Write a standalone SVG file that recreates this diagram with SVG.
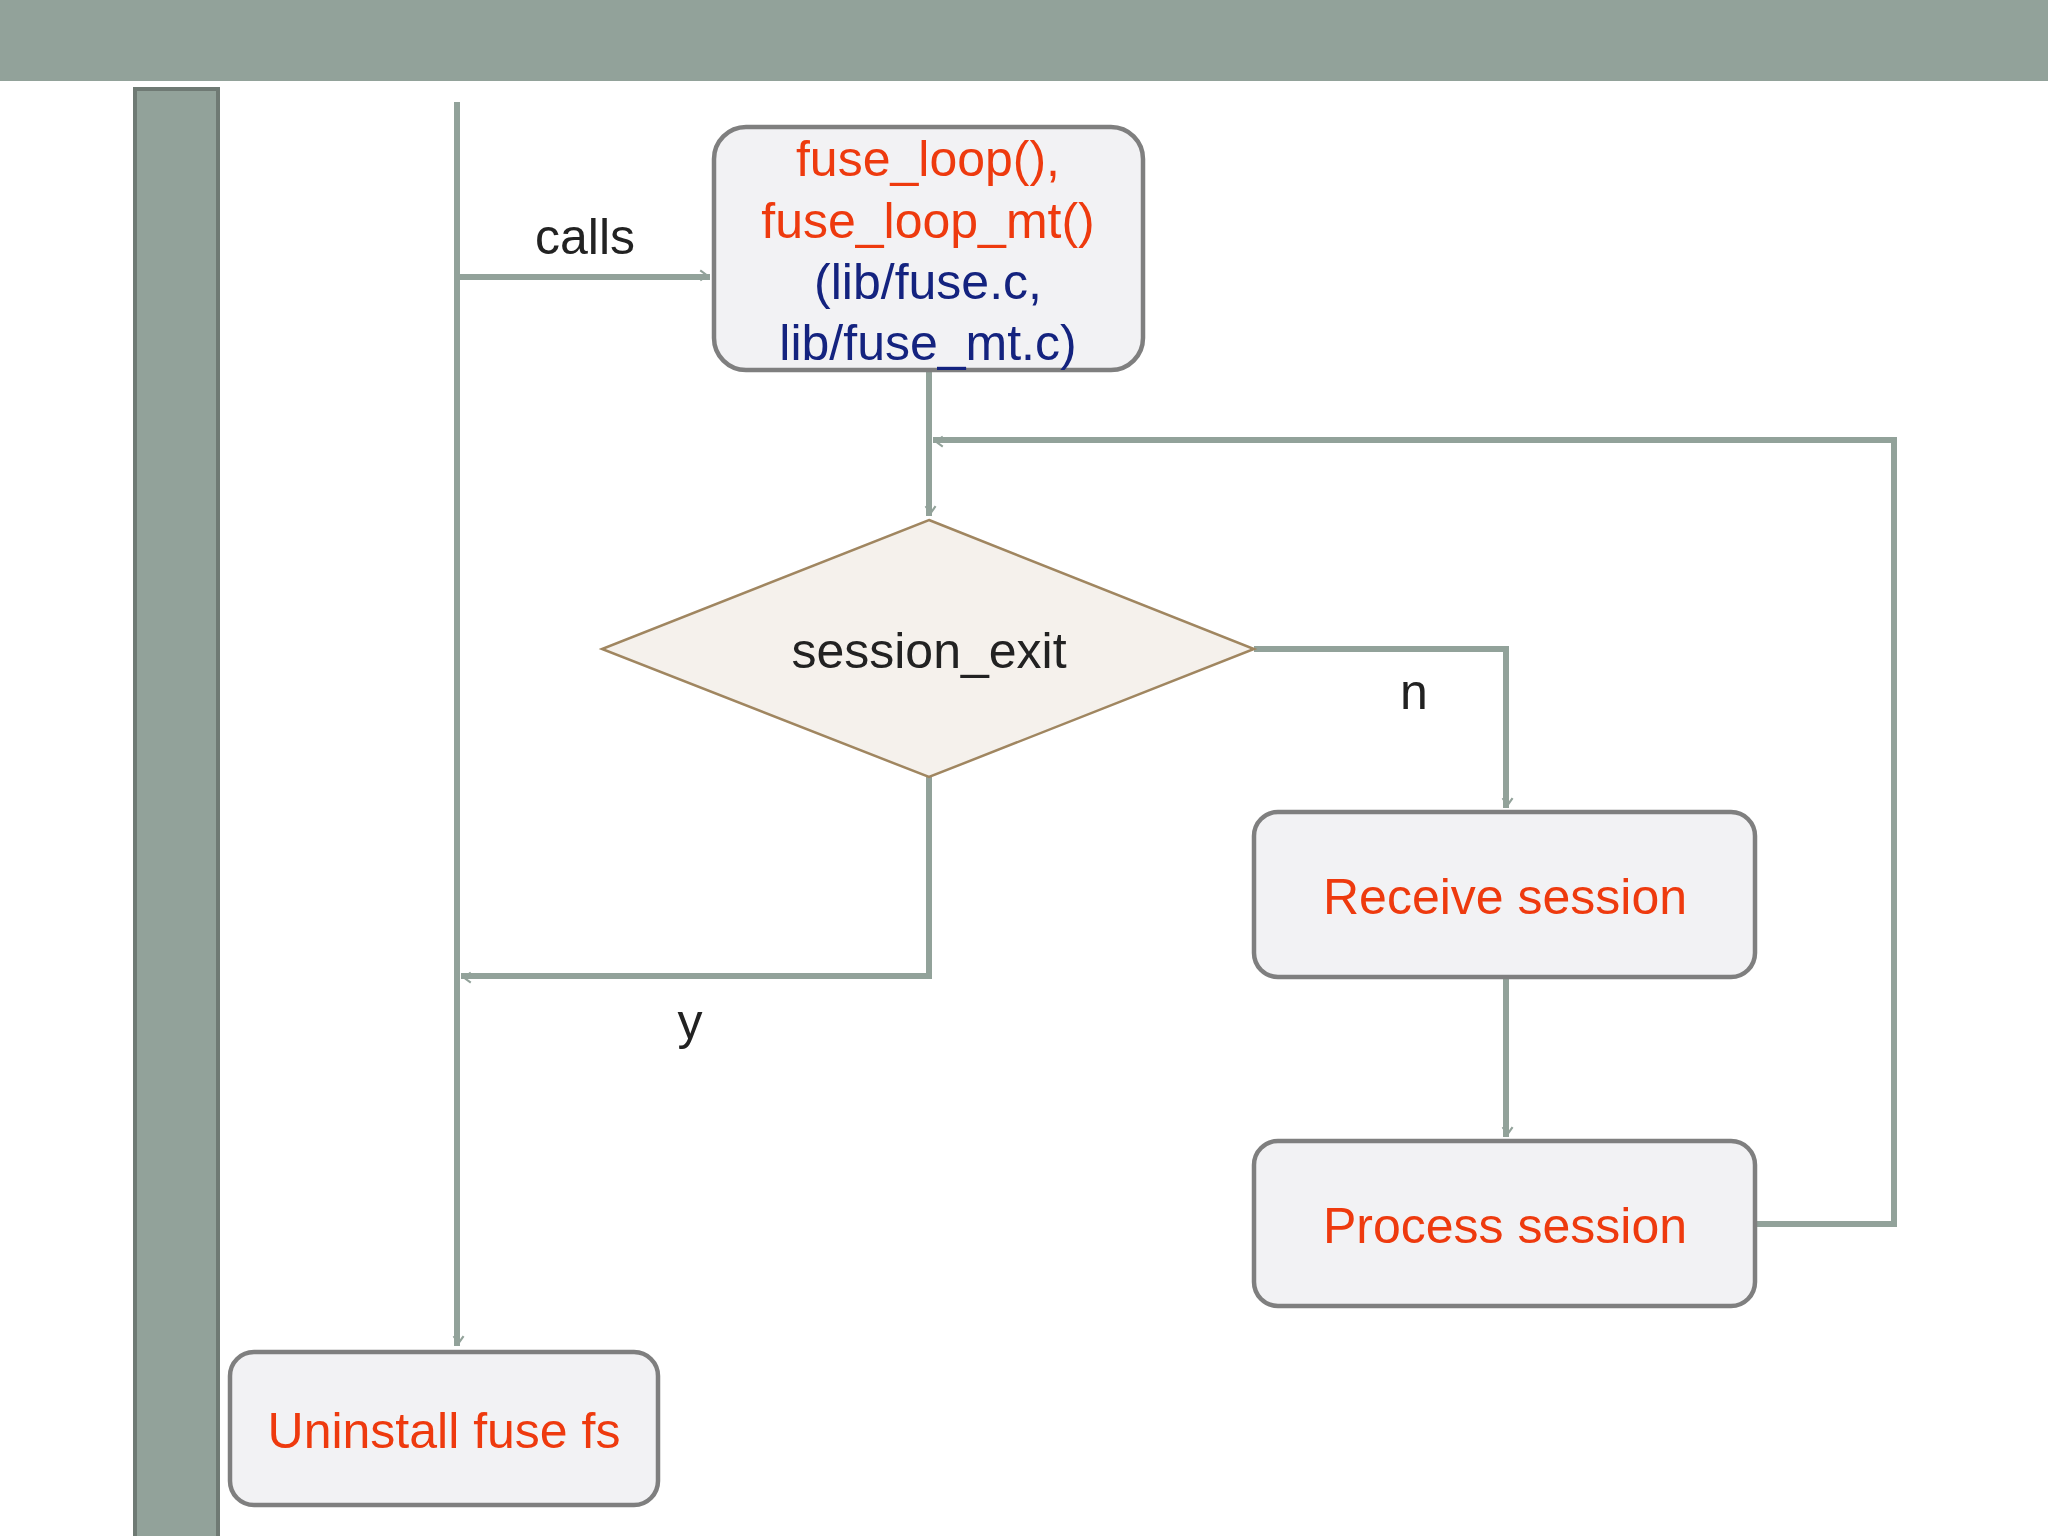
<svg xmlns="http://www.w3.org/2000/svg" width="2048" height="1536" viewBox="0 0 2048 1536">
<style>
.c{fill:none;stroke:#92A29A;stroke-width:6}
.b{fill:#F2F2F4;stroke:#7F7F7F;stroke-width:4.5}
.t{font-family:"Liberation Sans",Arial,sans-serif;font-size:50px;text-anchor:middle;dominant-baseline:central}
.r{fill:#EE3A0E}.n{fill:#14237F}.k{fill:#222}
</style>
<defs>
<marker id="a" viewBox="0 0 20 20" refX="18" refY="10" markerWidth="7" markerHeight="7" orient="auto" markerUnits="userSpaceOnUse" overflow="visible">
<path d="M-18,-16 L18,10 L-18,36" transform="scale(0.55) translate(0,0)" fill="none" stroke="#92A29A" stroke-width="11"/>
</marker>
</defs>
<rect width="2048" height="81" fill="#92A29A"/>
<rect x="135" y="89" width="83" height="1460" fill="#92A29A" stroke="#6F7A74" stroke-width="4"/>
<g id="connectors">
<path class="c" d="M457,102 V1346" marker-end="url(#a)"/>
<path class="c" d="M457,277 H710" marker-end="url(#a)"/>
<path class="c" d="M929,370 V516" marker-end="url(#a)"/>
<path class="c" d="M1757,1224 H1894 V440 H933" marker-end="url(#a)"/>
<path class="c" d="M1254,649 H1506 V808" marker-end="url(#a)"/>
<path class="c" d="M1506,977 V1137" marker-end="url(#a)"/>
<path class="c" d="M929,777 V976 H461" marker-end="url(#a)"/>
<text class="t k" x="585" y="237">calls</text>
<text class="t k" x="1414" y="692">n</text>
<text class="t k" x="690" y="1022">y</text>
</g>
<g id="n1">
<rect class="b" x="714" y="127" width="429" height="243" rx="32"/>
<text class="t r" x="928" y="159">fuse_loop(),</text>
<text class="t r" x="928" y="221">fuse_loop_mt()</text>
<text class="t n" x="928" y="282">(lib/fuse.c,</text>
<text class="t n" x="928" y="343">lib/fuse_mt.c)</text>
</g>
<g id="n2">
<polygon points="929,520 1254,649 929,777 602,649" fill="#F5F1EC" stroke="#A08660" stroke-width="2.5"/>
<text class="t k" x="929" y="651">session_exit</text>
</g>
<g id="n3">
<rect class="b" x="1254" y="812" width="501" height="165" rx="24"/>
<text class="t r" x="1505" y="897">Receive session</text>
</g>
<g id="n4">
<rect class="b" x="1254" y="1141" width="501" height="165" rx="24"/>
<text class="t r" x="1505" y="1226">Process session</text>
</g>
<g id="n5">
<rect class="b" x="230" y="1352" width="428" height="153" rx="24"/>
<text class="t r" x="444" y="1431">Uninstall fuse fs</text>
</g>
</svg>
